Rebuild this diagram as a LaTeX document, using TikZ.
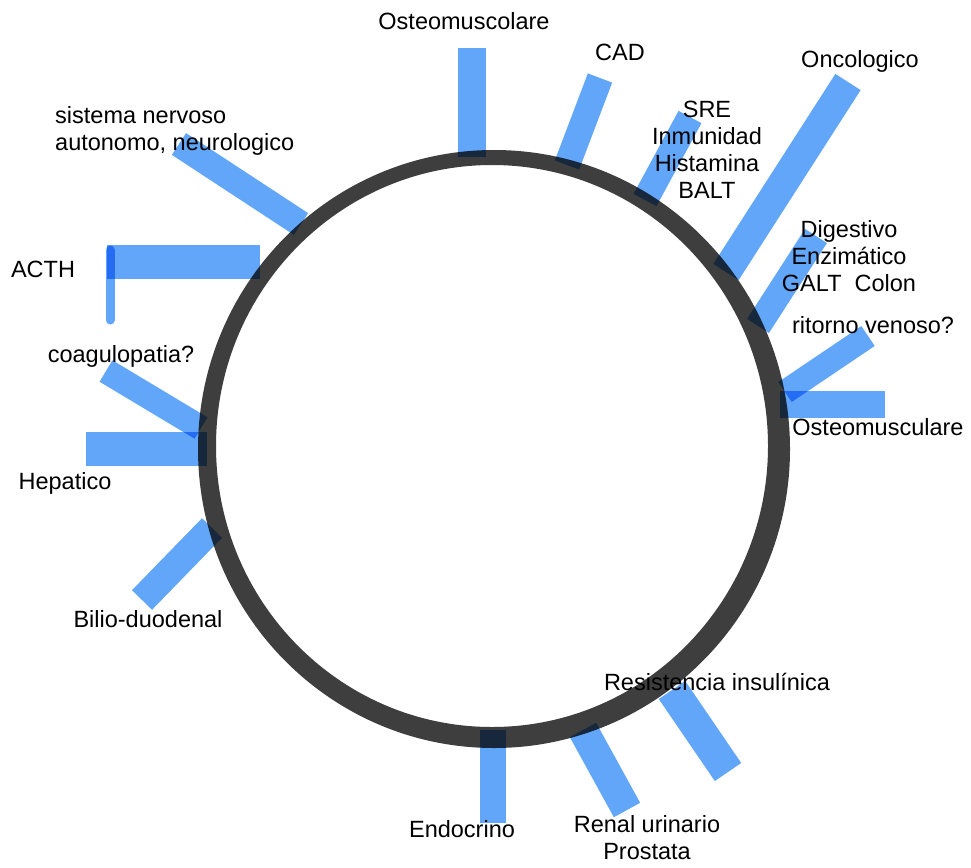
\documentclass[tikz,border=0pt]{standalone}
\usepackage{fontspec}
\setmainfont{Liberation Sans}
\begin{document}
\begin{tikzpicture}[x=1pt,y=-1pt,
  lbl/.style={anchor=base,inner sep=0pt,font=\fontsize{23.5}{27}\selectfont},
  bar/.style={draw=barblue,line cap=butt,line width=#1},
  bar/.default=26pt]
\definecolor{barblue}{RGB}{98,166,250}
\definecolor{ringgray}{RGB}{62,62,62}
\useasboundingbox[fill=white] (0,0) rectangle (971,867);
% ring
\fill[ringgray,even odd rule]
  (494,449) ellipse [x radius=296pt, y radius=299pt]
  (492,446) ellipse [x radius=276pt, y radius=281pt];
% bar end points
\coordinate (osA) at (472,48);  \coordinate (osB) at (472,157);
\coordinate (cadA) at (600,78); \coordinate (cadB) at (567,165);
\coordinate (sreA) at (690,117);\coordinate (sreB) at (645,200);
\coordinate (oncA) at (848,82); \coordinate (oncB) at (726,272);
\coordinate (digA) at (816,236);\coordinate (digB) at (758,326);
\coordinate (ritA) at (868,336);\coordinate (ritB) at (785,392);
\coordinate (omA) at (885,404); \coordinate (omB) at (780,404);
\coordinate (snA) at (179,144); \coordinate (snB) at (301,224);
\coordinate (acA) at (107,262); \coordinate (acB) at (260,262);
\coordinate (acC) at (110,250); \coordinate (acD) at (110,320);
\coordinate (coA) at (106,371); \coordinate (coB) at (201,428);
\coordinate (hpA) at (86,449);  \coordinate (hpB) at (207,449);
\coordinate (biA) at (142,600); \coordinate (biB) at (212,528);
\coordinate (enA) at (493,823); \coordinate (enB) at (493,730);
\coordinate (reA) at (627,810); \coordinate (reB) at (583,730);
\coordinate (riA) at (728,772); \coordinate (riB) at (672,690);
% bars
\begin{scope}[blend mode=multiply]
\draw[bar=28pt] (osA) -- (osB);
\draw[bar] (cadA) -- (cadB);
\draw[bar] (sreA) -- (sreB);
\draw[bar=30pt] (oncA) -- (oncB);
\draw[bar] (digA) -- (digB);
\draw[bar=24pt] (ritA) -- (ritB);
\draw[bar=27pt] (omA) -- (omB);
\draw[bar] (snA) -- (snB);
\draw[bar=34pt] (acA) -- (acB);
\draw[bar=9pt,line cap=round] (acC) -- (acD);
\draw[bar=25pt] (coA) -- (coB);
\draw[bar=34pt] (hpA) -- (hpB);
\draw[bar=28pt] (biA) -- (biB);
\draw[bar] (enA) -- (enB);
\draw[bar=30pt] (reA) -- (reB);
\draw[bar=32pt] (riA) -- (riB);
\end{scope}
% labels
\node[lbl] (tOs) at (464,30) {Osteomuscolare};
\node[lbl] (tCad) at (620,60) {CAD};
\node[lbl] (tOnc) at (860,67) {Oncologico};
\node[lbl] (tSre) at (707,117) {\begin{tabular}[t]{@{}c@{}}SRE\\Inmunidad\\Histamina\\BALT\end{tabular}};
\node[lbl] (tDig) at (849,237) {\begin{tabular}[t]{@{}c@{}}Digestivo\\Enzimático\\GALT\ \ Colon\end{tabular}};
\node[lbl] (tRit) at (873,333) {ritorno venoso?};
\node[lbl] (tOm) at (878,435) {Osteomusculare};
\node[lbl,anchor=base west] (tSn) at (55,123) {\begin{tabular}[t]{@{}l@{}}sistema nervoso\\autonomo, neurologico\end{tabular}};
\node[lbl] (tAc) at (43,277) {ACTH};
\node[lbl] (tCo) at (121,362) {coagulopatia?};
\node[lbl] (tHp) at (65,489) {Hepatico};
\node[lbl] (tBi) at (148,627) {Bilio-duodenal};
\node[lbl] (tRi) at (717,690) {Resistencia insulínica};
\node[lbl] (tEn) at (462,837) {Endocrino};
\node[lbl] (tRe) at (647,832) {\begin{tabular}[t]{@{}c@{}}Renal urinario\\Prostata\end{tabular}};
\end{tikzpicture}
\end{document}
